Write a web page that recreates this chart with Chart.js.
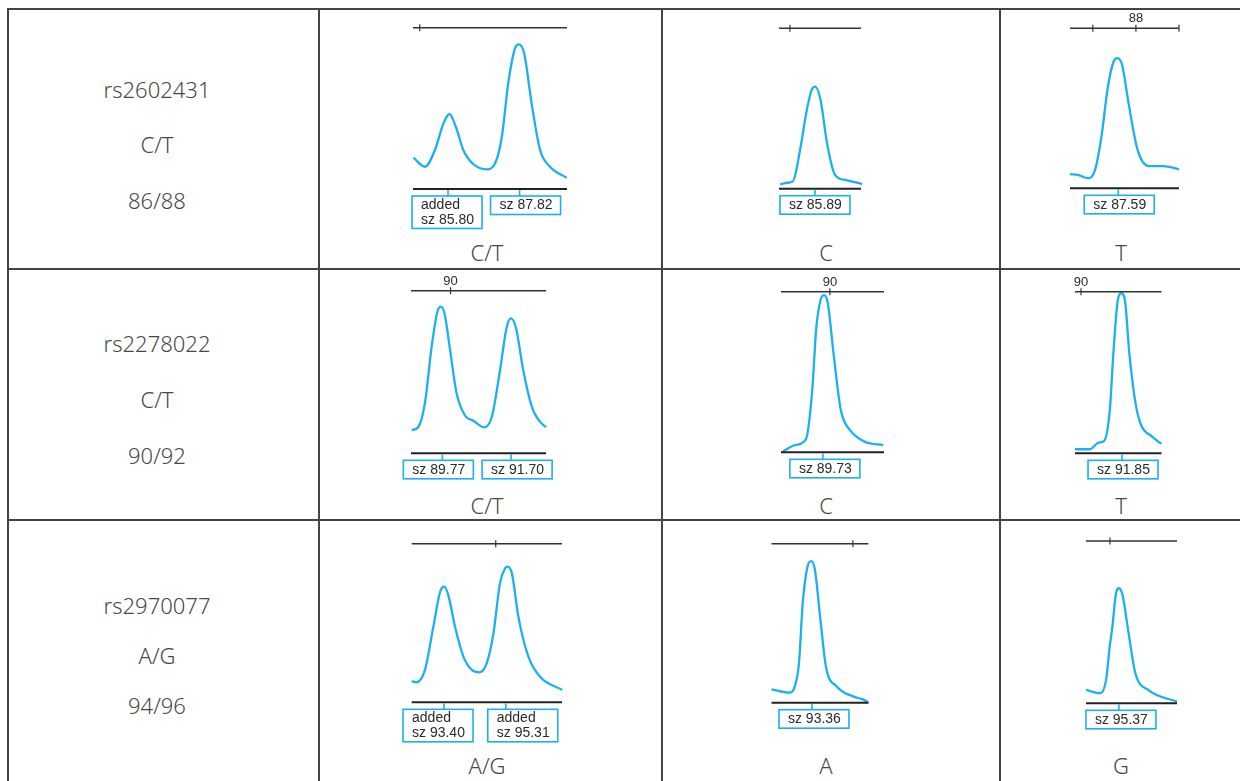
<!DOCTYPE html>
<html>
<head>
<meta charset="utf-8">
<script src="https://cdn.jsdelivr.net/npm/chart.js@4.4.1/dist/chart.umd.min.js"></script>
<style>
  html, body { margin: 0; padding: 0; background: #fff; }
  body { width: 1240px; height: 781px; position: relative; overflow: hidden; }
  .rule { position: absolute; background: #444; }
  .txt {
    position: absolute; transform: translate(-50%, -50%);
    font-family: "Noto Sans", "Open Sans", sans-serif; font-weight: 300;
    font-size: 22px; line-height: 1; color: #484848; white-space: nowrap;
  }
  canvas { position: absolute; }
</style>
</head>
<body>
<script>
// SNP rows (left column)
const snpIds = ["rs2602431", "rs2278022", "rs2970077"];
const snpAlleles = ["C/T", "C/T", "A/G"];
const snpSizes = ["86/88", "90/92", "94/96"];
// genotype called under each trace, per row: heterozygote, homozygote 1, homozygote 2
const genotypes = [["C/T", "C", "T"], ["C/T", "C", "T"], ["A/G", "A", "G"]];

// traces: size (bp) and relative height (% of panel)
const r1Het_bp  = [84.82, 85.15, 85.43, 85.67, 85.84, 86.02, 86.23, 86.51, 86.89, 87.13, 87.32, 87.50, 87.69, 87.80, 87.95, 88.16, 88.40, 88.68, 89.15];
const r1Het_h   = [19.4, 13.8, 24.2, 40.7, 46.5, 38.6, 24.2, 15.5, 12.2, 15.9, 32.4, 65.5, 87.2, 89.7, 84.1, 53.1, 24.2, 13.8, 7.0];
const r1HomC_bp = [84.65, 84.91, 85.10, 85.36, 85.60, 85.80, 85.90, 86.09, 86.32, 86.61, 87.00, 87.57];
const r1HomC_h  = [2.7, 3.7, 4.4, 24.1, 49.1, 62.6, 63.6, 55.3, 28.3, 8.5, 5.4, 2.9];
const r1HomT_bp = [86.47, 86.67, 86.88, 87.05, 87.20, 87.35, 87.48, 87.57, 87.68, 87.83, 88.04, 88.30, 88.64, 89.00];
const r1HomT_h  = [8.8, 8.3, 6.3, 11.4, 32.3, 63.5, 79.1, 81.3, 77.1, 53.1, 23.9, 13.9, 13.9, 11.9];

const r2Het_bp  = [88.91, 89.09, 89.28, 89.47, 89.63, 89.73, 89.84, 90.00, 90.17, 90.41, 90.64, 90.94, 91.16, 91.39, 91.58, 91.70, 91.84, 92.04, 92.28, 92.47, 92.68];
const r2Het_h   = [14.3, 16.0, 30.8, 65.6, 87.1, 90.2, 85.1, 61.5, 36.9, 23.1, 20.0, 16.0, 22.5, 51.2, 77.9, 83.0, 76.9, 51.2, 28.7, 20.5, 16.0];
const r2HomC_bp = [88.19, 88.58, 89.00, 89.14, 89.33, 89.47, 89.64, 89.78, 89.92, 90.14, 90.42, 90.77, 91.34, 92.05];
const r2HomC_h  = [0.4, 4.1, 6.6, 11.8, 40.8, 76.2, 94.8, 97.9, 92.8, 61.6, 26.3, 13.9, 6.6, 4.5];
const r2HomT_bp = [89.73, 90.39, 90.80, 91.05, 91.30, 91.46, 91.66, 91.82, 91.98, 92.18, 92.46, 92.71, 93.21, 93.62];
const r2HomT_h  = [2.5, 2.5, 6.6, 7.8, 26.8, 61.9, 94.9, 99.0, 94.9, 61.9, 30.9, 17.5, 10.3, 5.8];

const r3Het_bp  = [92.40, 92.55, 92.81, 93.07, 93.28, 93.40, 93.53, 93.74, 94.00, 94.26, 94.49, 94.72, 94.93, 95.13, 95.29, 95.36, 95.50, 95.70, 96.01, 96.37, 97.06];
const r3Het_h   = [13.4, 12.6, 20.4, 47.7, 69.7, 72.9, 67.7, 47.7, 28.8, 20.4, 18.9, 24.6, 43.5, 75.0, 84.5, 85.5, 81.3, 54.0, 28.8, 16.1, 7.8];
const r3HomA_bp = [91.74, 92.45, 92.67, 92.84, 92.99, 93.18, 93.33, 93.48, 93.70, 93.92, 94.36, 95.03, 95.40, 95.62];
const r3HomA_h  = [8.4, 6.3, 10.1, 24.8, 62.5, 85.5, 89.1, 83.5, 52.0, 22.6, 10.1, 3.8, 2.1, 0.0];
const r3HomG_bp = [94.01, 94.61, 94.84, 94.99, 95.10, 95.25, 95.37, 95.52, 95.75, 96.05, 96.58, 97.77];
const r3HomG_h  = [8.2, 6.2, 14.4, 34.9, 47.2, 67.8, 70.9, 66.7, 45.2, 18.5, 8.2, 1.0];

// size window shown in each panel (bp)
const xRanges = [[84.81, 89.16], [84.61, 87.53], [86.47, 89.00],
                 [88.89, 92.68], [88.12, 92.08], [89.73, 93.63],
                 [92.40, 97.05], [91.74, 95.62], [94.01, 97.77]];
// size ruler ticks and which of them carry a label
const rulerTicks  = [[85], [85], [87, 88, 89], [90], [90], [90], [95], [95], [95]];
const rulerLabels = [[], [], [88], [90], [90], [90], [], [], []];
// called peaks (bins)
const binSizes = [[85.80, 87.82], [85.89], [87.59], [89.77, 91.70], [89.73], [91.85], [93.40, 95.31], [93.36], [95.37]];
const binAdded = [[true, false], [false], [false], [false, false], [false], [false], [true, true], [false], [false]];

const traces = [
  [r1Het_bp, r1Het_h], [r1HomC_bp, r1HomC_h], [r1HomT_bp, r1HomT_h],
  [r2Het_bp, r2Het_h], [r2HomC_bp, r2HomC_h], [r2HomT_bp, r2HomT_h],
  [r3Het_bp, r3Het_h], [r3HomA_bp, r3HomA_h], [r3HomG_bp, r3HomG_h],
];

// ---- layout (pixels) ----
const colX = [[319, 662], [662, 1000], [1000, 1240]];
const rowY = [[9, 269], [269, 520], [520, 781]];
// per panel: ruler left/right, ruler y, baseline y, box shifts
const panels = [
  { l: 413, r: 567, top: 27.7, base: 189, shift: [-1, 6] },
  { l: 779, r: 861, top: 28.3, base: 188.7, shift: [0] },
  { l: 1070, r: 1179, top: 28.3, base: 188.3, shift: [1] },
  { l: 411, r: 546, top: 290.7, base: 453.3, shift: [-4, 6] },
  { l: 781, r: 884, top: 291.7, base: 452.3, shift: [2] },
  { l: 1075, r: 1161.5, top: 291.7, base: 453.3, shift: [1] },
  { l: 411.7, r: 562, top: 543.7, base: 702.3, shift: [-6, 17] },
  { l: 771.5, r: 868.4, top: 543.7, base: 702.7, shift: [2] },
  { l: 1086, r: 1177, top: 541, base: 703.3, shift: [2] },
];
const BLUE = "#1cb0ec";
const INK = "#2a2a2a";

function addDiv(cls, css, text) {
  const d = document.createElement("div");
  d.className = cls;
  Object.assign(d.style, css);
  if (text != null) d.textContent = text;
  document.body.appendChild(d);
  return d;
}

// table rules
[8, 319, 662, 1000].forEach((x) => addDiv("rule", { left: (x - 1) + "px", top: "8px", width: "2px", height: "790px" }));
[9, 269, 520].forEach((y) => addDiv("rule", { left: "7px", top: (y - 1) + "px", width: "1240px", height: "2px" }));

// left column text
const rowTextY = [[89, 144, 200], [343, 399, 455], [605, 655, 705]];
snpIds.forEach((id, r) => {
  [id, snpAlleles[r], snpSizes[r]].forEach((t, k) =>
    addDiv("txt", { left: "157px", top: rowTextY[r][k] + "px" }, t));
});

// genotype labels under traces
const genoX = [487, 826, 1121];
const genoY = [252, 505, 765];
genotypes.forEach((row, r) => row.forEach((g, c) =>
  addDiv("txt", { left: genoX[c] + "px", top: genoY[r] + "px" }, g)));

function seg(ctx, x1, y1, x2, y2) {
  ctx.beginPath(); ctx.moveTo(x1, y1); ctx.lineTo(x2, y2); ctx.stroke();
}

const decor = {
  id: "decor",
  afterDatasetsDraw(chart, args, o) {
    const { ctx, chartArea: a, scales: { x } } = chart;
    ctx.save();
    // size ruler
    ctx.strokeStyle = "#333"; ctx.lineWidth = 1.5;
    seg(ctx, a.left, a.top, a.right, a.top);
    ctx.lineWidth = 1.2;
    o.ticks.forEach((v) => { const px = x.getPixelForValue(v); seg(ctx, px, a.top - 3.5, px, a.top + 3.5); });
    ctx.fillStyle = INK; ctx.font = '13px "Liberation Sans", Arial, sans-serif';
    ctx.textAlign = "center"; ctx.textBaseline = "middle";
    o.labels.forEach((v) => ctx.fillText(String(v), x.getPixelForValue(v), a.top - 9.5));
    // baseline
    ctx.strokeStyle = "#222"; ctx.lineWidth = 2;
    seg(ctx, a.left, a.bottom, a.right, a.bottom);
    // bins
    ctx.font = '14px "Liberation Sans", Arial, sans-serif';
    ctx.textAlign = "left";
    o.bins.forEach((v, i) => {
      const px = x.getPixelForValue(v);
      const cx = px + (o.shift[i] || 0);
      const top = a.bottom + 7;
      const h = o.added[i] ? 32.5 : 18.5;
      ctx.strokeStyle = BLUE; ctx.lineWidth = 1.6;
      seg(ctx, px, a.bottom + 1, px, top);
      ctx.strokeRect(cx - 35, top, 70, h);
      ctx.fillStyle = INK;
      const label = "sz " + v.toFixed(2);
      if (o.added[i]) {
        ctx.fillText("added", cx - 26, top + 8.8);
        ctx.fillText(label, cx - 26, top + 24.3);
      } else {
        ctx.fillText(label, cx - 26, top + 9.6);
      }
    });
    ctx.restore();
  },
};

traces.forEach(([bp, h], i) => {
  const p = panels[i];
  const [cx0, cx1] = colX[i % 3];
  const [cy0, cy1] = rowY[Math.floor(i / 3)];
  const cv = document.createElement("canvas");
  cv.width = cx1 - cx0; cv.height = cy1 - cy0;
  cv.style.left = cx0 + "px"; cv.style.top = cy0 + "px";
  document.body.appendChild(cv);
  new Chart(cv, {
    type: "line",
    data: {
      datasets: [{
        data: bp.map((v, k) => ({ x: v, y: h[k] })),
        borderColor: BLUE,
        borderWidth: 2.3,
        pointRadius: 0,
        cubicInterpolationMode: "monotone",
        fill: false,
        clip: false,
      }],
    },
    options: {
      responsive: false,
      animation: false,
      devicePixelRatio: 1,
      layout: { padding: { left: p.l - cx0, right: cx1 - p.r, top: p.top - cy0, bottom: cy1 - p.base } },
      scales: {
        x: { type: "linear", min: xRanges[i][0], max: xRanges[i][1], display: false },
        y: { min: 0, max: 100, display: false },
      },
      plugins: {
        legend: { display: false },
        tooltip: { enabled: false },
        decor: { ticks: rulerTicks[i], labels: rulerLabels[i], bins: binSizes[i], added: binAdded[i], shift: panels[i].shift },
      },
    },
    plugins: [decor],
  });
});
</script>
</body>
</html>
